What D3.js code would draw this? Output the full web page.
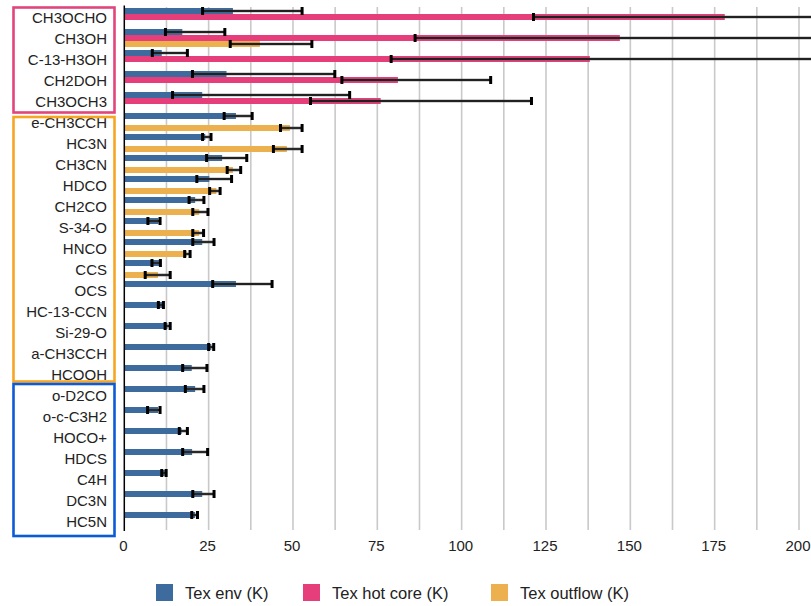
<!DOCTYPE html>
<html><head><meta charset="utf-8">
<script src="https://cdn.jsdelivr.net/npm/d3@7"></script>
<style>
html,body{margin:0;padding:0;background:#fff;}
svg{display:block;font-family:"Liberation Sans",Arial,Helvetica,sans-serif;}
</style></head>
<body>
<svg id="chart" width="811" height="606"></svg>
<script>
const categories = ["CH3OCHO","CH3OH","C-13-H3OH","CH2DOH","CH3OCH3","e-CH3CCH","HC3N","CH3CN","HDCO","CH2CO","S-34-O","HNCO","CCS","OCS","HC-13-CCN","Si-29-O","a-CH3CCH","HCOOH","o-D2CO","o-c-C3H2","HOCO+","HDCS","C4H","DC3N","HC5N"];
const seriesNames = ["Tex env (K)","Tex hot core (K)","Tex outflow (K)"];
// values (null = no bar)
const texEnv     = [32.2,17.2,11.1,30.3,23.1,33.1,24.0,29.0,25.2,21.0,10.1,23.1,10.5,33.1,11.3,12.8,25.8,20.0,21.0,10.0,17.0,20.1,12.0,23.1,21.0];
const texEnvLo   = [23.2,12.2, 8.3,20.2,14.3,29.6,23.2,24.4,21.5,19.2, 7.0,20.3, 8.2,26.2,10.1,12.1,25.0,17.3,18.1, 6.9,16.3,17.3,11.1,20.3,20.0];
const texEnvHi   = [52.7,29.8,18.7,62.4,66.8,37.9,25.7,36.3,31.8,23.6,10.6,26.6,10.7,43.8,11.6,13.6,26.5,24.5,23.6,10.6,18.7,24.7,12.4,26.6,21.7];
const texHot     = [178.0,146.9,138.0,81.1,76.0,null,null,null,null,null,null,null,null,null,null,null,null,null,null,null,null,null,null,null,null];
const texHotLo   = [121.3,86.2,79.1,64.5,55.2,null,null,null,null,null,null,null,null,null,null,null,null,null,null,null,null,null,null,null,null];
const texHotHi   = [240,240,240,108.6,120.7,null,null,null,null,null,null,null,null,null,null,null,null,null,null,null,null,null,null,null,null];
const texOut     = [null,40.2,null,null,null,49.1,48.2,32.2,27.3,22.2,22.2,18.5,10.0,null,null,null,null,null,null,null,null,null,null,null,null];
const texOutLo   = [null,31.4,null,null,null,46.3,44.2,30.5,25.3,20.3,20.3,17.9, 6.2,null,null,null,null,null,null,null,null,null,null,null,null];
const texOutHi   = [null,55.6,null,null,null,52.7,52.7,34.5,28.4,24.8,23.5,19.5,13.6,null,null,null,null,null,null,null,null,null,null,null,null];
const xTicks = [0,25,50,75,100,125,150,175,200];
const groups = [
  {first:"CH3OCHO", last:"CH3OCH3", color:"#e2457c"},
  {first:"e-CH3CCH", last:"HCOOH", color:"#f7a623"},
  {first:"o-D2CO", last:"HC5N", color:"#0d5ad8"}
];
const colors = ["#3d6b9d","#e63e7a","#ecb04e"];

const svg = d3.select("#chart");
const x = d3.scaleLinear().domain([0,200]).range([124.3,799]);
const y = d3.scaleBand().domain(categories).range([6.5,531.5]).padding(0);
const sub = d3.scaleBand().domain([0,1,2]).range([1.5,y.bandwidth()-1.5]).padding(0);

// gridlines every 12.5
const grid = d3.range(0,200.01,12.5);
svg.append("g").selectAll("line").data(grid.filter(d=>d>0)).join("line")
  .attr("x1",d=>x(d)).attr("x2",d=>x(d)).attr("y1",7).attr("y2",530)
  .attr("stroke","#c9c9c9").attr("stroke-width",1.6);

// bars
const series = [
  {v:texEnv, lo:texEnvLo, hi:texEnvHi},
  {v:texHot, lo:texHotLo, hi:texHotHi},
  {v:texOut, lo:texOutLo, hi:texOutHi}
];
const barG = svg.append("g");
series.forEach((s,si)=>{
  const data = categories.map((c,i)=>({c, v:s.v[i], lo:s.lo[i], hi:s.hi[i]})).filter(d=>d.v!=null);
  barG.append("g").selectAll("rect").data(data).join("rect")
    .attr("x",x(0)).attr("y",d=>y(d.c)+sub(si))
    .attr("width",d=>x(d.v)-x(0)).attr("height",sub.bandwidth())
    .attr("fill",colors[si]);
});
// error bars
const errG = svg.append("g");
series.forEach((s,si)=>{
  const data = categories.map((c,i)=>({c, v:s.v[i], lo:s.lo[i], hi:s.hi[i]})).filter(d=>d.v!=null);
  const cy = d=>y(d.c)+sub(si)+sub.bandwidth()/2;
  errG.append("g").selectAll("line").data(data).join("line")
    .attr("x1",d=>x(d.lo)).attr("x2",d=>x(d.hi)).attr("y1",cy).attr("y2",cy)
    .attr("stroke","#555").attr("stroke-width",2.6);
  errG.append("g").selectAll("line").data(data).join("line")
    .attr("x1",d=>x(d.lo)).attr("x2",d=>x(d.hi)).attr("y1",cy).attr("y2",cy)
    .attr("stroke","#111").attr("stroke-width",1.3);
  const caps = [];
  data.forEach(d=>{caps.push({c:d.c,val:d.lo}); if(d.hi<=200) caps.push({c:d.c,val:d.hi});});
  errG.append("g").selectAll("rect").data(caps).join("rect")
    .attr("x",d=>x(d.val)-1.5).attr("y",d=>y(d.c)+sub(si)+sub.bandwidth()/2-4)
    .attr("width",3).attr("height",8).attr("fill","#000");
});

// axis line
svg.append("line").attr("x1",x(0)).attr("x2",x(0)).attr("y1",5.5).attr("y2",531)
  .attr("stroke","#000").attr("stroke-width",1.5);

// x tick labels
svg.append("g").selectAll("text").data(xTicks).join("text")
  .attr("x",d=>x(d)-1).attr("y",551).attr("text-anchor","middle")
  .attr("font-size",15).attr("fill","#222").text(d=>d);

// category labels
svg.append("g").selectAll("text").data(categories).join("text")
  .attr("x",107).attr("y",d=>y(d)+y.bandwidth()/2+5.5).attr("text-anchor","end")
  .attr("font-size",15).attr("fill","#222").text(d=>d);

// group boxes
const boxAdj = [[1,1],[5.5,-3],[-0.5,4.5]];
groups.forEach((g,i)=>{
  const top = y(g.first)+boxAdj[i][0];
  const bot = y(g.last)+y.bandwidth()+boxAdj[i][1];
  svg.append("rect").attr("x",13.5).attr("y",top).attr("width",101).attr("height",bot-top)
    .attr("fill","none").attr("stroke",g.color).attr("stroke-width",2.6);
});

// legend
const legX = [156,303,491];
const leg = svg.append("g").selectAll("g").data(seriesNames).join("g")
  .attr("transform",(d,i)=>`translate(${legX[i]},584)`);
leg.append("rect").attr("width",17).attr("height",17).attr("fill",(d,i)=>colors[i]);
leg.append("text").attr("x",29).attr("y",14.5).attr("font-size",16.5).attr("fill","#222").text(d=>d);
</script>
</body></html>
